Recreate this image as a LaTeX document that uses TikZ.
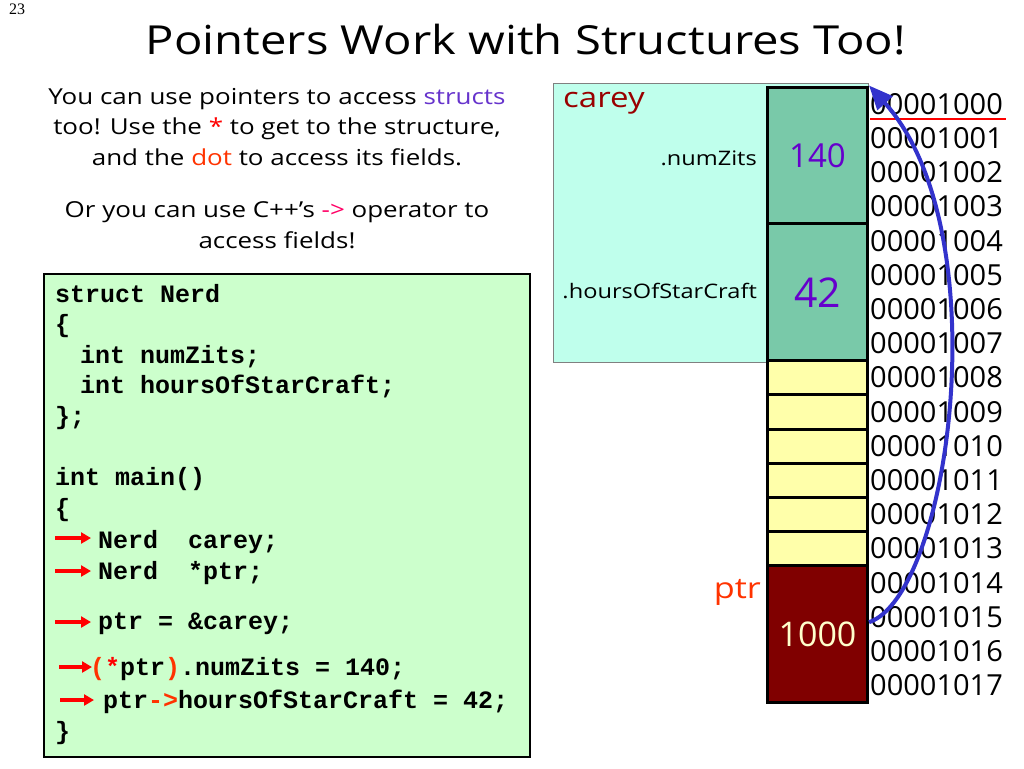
\documentclass[tikz,border=0pt]{standalone}
\usepackage{fontspec}
\setmainfont{Open Sans}[FakeStretch=1.18]
\newfontfamily\plainfont{Open Sans}
\newfontfamily\codefont{Liberation Mono}
\newfontfamily\numfont{Liberation Serif}
\usetikzlibrary{arrows.meta}
\definecolor{structc}{HTML}{6633CC}
\definecolor{dotc}{HTML}{FF3300}
\definecolor{arrc}{HTML}{FF0066}
\definecolor{codegreen}{HTML}{CCFFCC}
\definecolor{careybg}{HTML}{BFFFEC}
\definecolor{careyred}{HTML}{990000}
\definecolor{cellgreen}{HTML}{79C9A9}
\definecolor{cellyellow}{HTML}{FFFFAA}
\definecolor{cellred}{HTML}{800000}
\definecolor{valpurple}{HTML}{6600CC}
\definecolor{ptrorange}{HTML}{FF3300}
\definecolor{cream}{HTML}{FFFFCC}
\definecolor{arrowblue}{HTML}{3333CC}
\definecolor{codeorange}{HTML}{FF3300}
\tikzset{
  codeline/.style={anchor=base west, inner sep=0pt, font=\codefont\bfseries\fontsize{25}{25}\selectfont},
  runarrow/.style={draw=red, line width=3.5pt, -{Triangle[length=10pt,width=11pt]}},
  memcell/.style={draw=black, line width=3pt, inner sep=0pt, minimum width=100pt},
  addrlbl/.style={anchor=west, inner sep=0pt, font=\plainfont\fontsize{29}{29}\selectfont},
  fieldlbl/.style={anchor=east, inner sep=0pt, font=\fontsize{20}{20}\selectfont},
  ptrarrow/.style={draw=arrowblue, line width=4pt, -{Triangle[length=24pt,width=20pt]}}
}
\begin{document}
\begin{tikzpicture}[x=1pt,y=-1pt]
\useasboundingbox (0,0) rectangle (1024,768);
\fill[white] (0,0) rectangle (1024,768);

% page number and title
\node[anchor=north west, inner sep=0pt, font=\numfont\fontsize{16}{16}\selectfont] (pg) at (9,4) {23};
\node[font=\fontsize{40}{40}\selectfont] (title) at (526,40) {Pointers Work with Structures Too!};

% intro text
\node[align=center, font=\fontsize{22}{30.5}\selectfont] (intro) at (277,127)
  {You can use pointers to access \textcolor{structc}{structs}\\
   too! Use the \textcolor{red}{*} to get to the structure,\\
   and the \textcolor{dotc}{dot} to access its fields.};
\node[align=center, font=\fontsize{22}{30.5}\selectfont] (intro2) at (277,225)
  {Or you can use C++’s \textcolor{arrc}{->} operator to\\ access fields!};

% code box
\node[draw=black, fill=codegreen, line width=2pt, anchor=north west, inner sep=0pt,
      minimum width=486pt, minimum height=483pt] (code) at (43,273) {};
\node[codeline] (c1) at (55,302) {struct Nerd};
\node[codeline] (c2) at (55,332) {\{};
\node[codeline] (c3) at (80,363) {int numZits;};
\node[codeline] (c4) at (80,393) {int hoursOfStarCraft;};
\node[codeline] (c5) at (55,424) {\};};
\node[codeline] (c6) at (55,485) {int main()};
\node[codeline] (c7) at (55,516) {\{};
\node[codeline] (c8) at (98,548) {Nerd\ \ carey;};
\node[codeline] (c9) at (98,579) {Nerd\ \ *ptr;};
\node[codeline] (c10) at (98,629) {ptr = \&carey;};
\node[codeline] (c11) at (90,675) {\textcolor{codeorange}{(}\textcolor{red}{*}ptr\textcolor{codeorange}{)}.numZits = 140;};
\node[codeline] (c12) at (103,708) {ptr\textcolor{codeorange}{->}hoursOfStarCraft = 42;};
\node[codeline] (c13) at (55,739) {\}};

% execution arrows
\draw[runarrow] (55,538) -- (91,538);
\draw[runarrow] (55,571) -- (91,571);
\draw[runarrow] (55,622) -- (91,622);
\draw[runarrow] (59,667) -- (92,667);
\draw[runarrow] (60,700) -- (94,700);

% carey struct area
\node[draw=gray, fill=careybg, line width=1pt, anchor=north west, inner sep=0pt,
      minimum width=315pt, minimum height=279pt] (careybox) at (553,83) {};
\node[anchor=base west, inner sep=0pt, text=careyred, font=\fontsize{28}{28}\selectfont] (careylbl) at (563,107) {carey};

% memory cells
\node[memcell, fill=cellgreen, minimum height=136.8pt, text=valpurple,
      font=\plainfont\fontsize{33}{33}\selectfont] (zits) at (817.5,155.4) {\raisebox{-4pt}{140}};
\node[memcell, fill=cellgreen, minimum height=136.8pt, text=valpurple,
      font=\plainfont\fontsize{41}{41}\selectfont] (hours) at (817.5,292.2) {\raisebox{-1pt}{42}};
\foreach \r in {8,...,13}{
  \node[memcell, fill=cellyellow, minimum height=34.2pt] (y\r) at (817.5,{87+34.2*(\r+0.5)}) {};
}
\node[memcell, fill=cellred, minimum height=136.8pt, text=cream,
      font=\plainfont\fontsize{34}{34}\selectfont] (ptr) at (817.5,634.2) {1000};

% field labels
\node[fieldlbl] (nzl) at (757,158) {.numZits};
\node[fieldlbl] (hsl) at (757,291) {.hoursOfStarCraft};
\node[anchor=east, inner sep=0pt, text=ptrorange, font=\fontsize{29}{29}\selectfont] (ptrlbl) at (761,592) {ptr};

% addresses
\foreach \r in {0,...,17}{
  \node[addrlbl] (addr\r) at (870,{104+34.2*\r}) {0000\ifnum\r<10 100\r\else 10\r\fi};
}
\draw[red, line width=2pt] (870,119) -- (1006,119);

% pointer arrow
\draw[ptrarrow] ([yshift=12pt]ptr.east) .. controls (950,595) and (1000,230) .. (zits.north east);
\end{tikzpicture}
\end{document}
